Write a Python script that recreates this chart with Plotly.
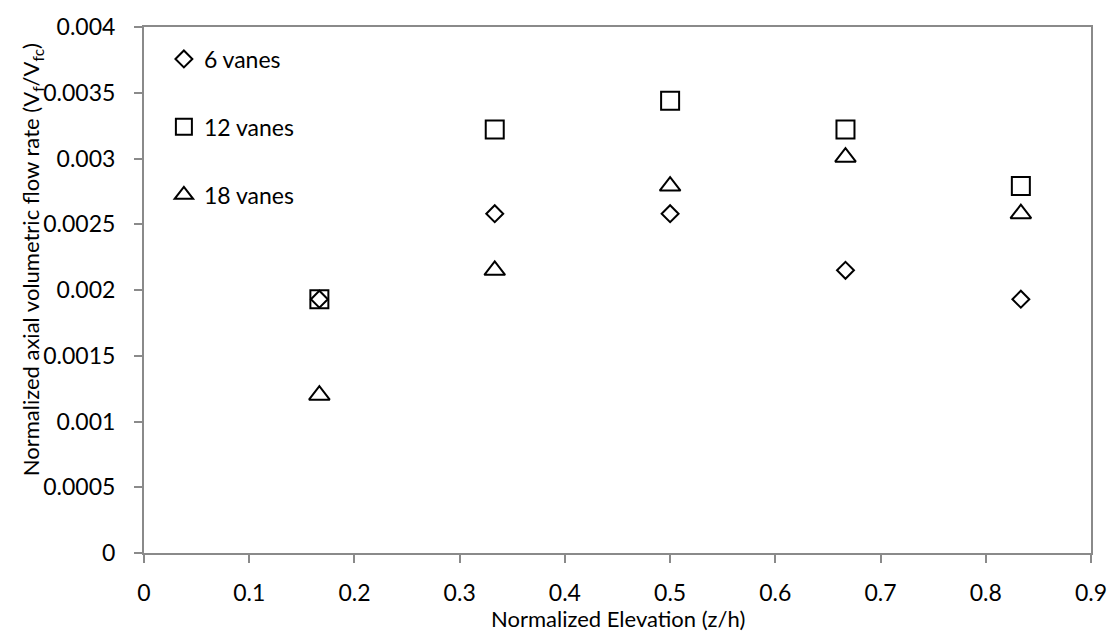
import plotly.graph_objects as go

# Normalized elevation positions (z/h)
elevation = [1/6, 2/6, 3/6, 4/6, 5/6]

# Normalized axial volumetric flow rate for each vane count
flow_6_vanes = [0.00193, 0.00258, 0.00258, 0.00215, 0.00193]
flow_12_vanes = [0.00193, 0.00322, 0.00344, 0.00322, 0.00279]
flow_18_vanes = [0.00120, 0.00215, 0.00279, 0.00301, 0.00258]

series_names = ["6 vanes", "12 vanes", "18 vanes"]

x_tick_vals = [0, 0.1, 0.2, 0.3, 0.4, 0.5, 0.6, 0.7, 0.8, 0.9]
x_tick_text = ["0", "0.1", "0.2", "0.3", "0.4", "0.5", "0.6", "0.7", "0.8", "0.9"]
y_tick_vals = [0, 0.0005, 0.001, 0.0015, 0.002, 0.0025, 0.003, 0.0035, 0.004]
y_tick_text = ["0", "0.0005", "0.001", "0.0015", "0.002", "0.0025", "0.003", "0.0035", "0.004"]

FONT = "Lato, 'Open Sans', sans-serif"
AXIS_GREY = "#8a8a8a"

fig = go.Figure()

styles = [
    dict(symbol="diamond-open", size=13),
    dict(symbol="square-open", size=18),
    dict(symbol="triangle-up-open", size=18),
]

for name, values, st, grp in zip(series_names,
                                 [flow_6_vanes, flow_12_vanes, flow_18_vanes],
                                 styles, ["g6", "g12", "g18"]):
    fig.add_trace(go.Scatter(
        x=elevation, y=values, mode="markers", name=name, legendgroup=grp,
        marker=dict(symbol=st["symbol"], size=st["size"], color="black",
                    line=dict(color="black", width=2)),
    ))

fig.update_layout(
    width=1119, height=632,
    margin=dict(l=144, r=18, t=21, b=79),
    paper_bgcolor="white", plot_bgcolor="white",
    font=dict(family=FONT, size=23, color="black"),
    showlegend=True,
    legend=dict(
        x=0.021, y=0.98, xanchor="left", yanchor="top",
        bgcolor="rgba(0,0,0,0)", borderwidth=0,
        traceorder="grouped", tracegroupgap=35,
        font=dict(family=FONT, size=23, color="black"),
        itemwidth=30,
    ),
    xaxis=dict(
        range=[0, 0.9], tickvals=x_tick_vals, ticktext=x_tick_text,
        showgrid=False, zeroline=False,
        showline=True, linecolor=AXIS_GREY, linewidth=2, mirror=True,
        ticks="outside", ticklen=8, tickwidth=2, tickcolor=AXIS_GREY,
        ticklabelstandoff=10,
        tickfont=dict(family=FONT, size=23, color="black"),
    ),
    yaxis=dict(
        range=[0, 0.004], tickvals=y_tick_vals, ticktext=y_tick_text,
        showgrid=False, zeroline=False,
        showline=True, linecolor=AXIS_GREY, linewidth=2, mirror=True,
        ticks="outside", ticklen=8, tickwidth=2, tickcolor=AXIS_GREY,
        ticklabelstandoff=14,
        tickfont=dict(family=FONT, size=23, color="black"),
    ),
)

fig.add_annotation(
    text="Normalized Elevation (z/h)", xref="paper", yref="paper",
    x=0.5, y=-0.124, xanchor="center", yanchor="middle", showarrow=False,
    font=dict(family=FONT, size=22, color="black"),
)
fig.add_annotation(
    text="Normalized axial volumetric flow rate (V<sub>f</sub>/V<sub>fc</sub>)",
    xref="paper", yref="paper", x=-0.118, y=0.557, textangle=-90,
    xanchor="center", yanchor="middle", showarrow=False,
    font=dict(family=FONT, size=22, color="black"),
)

fig.write_html("out.html")
